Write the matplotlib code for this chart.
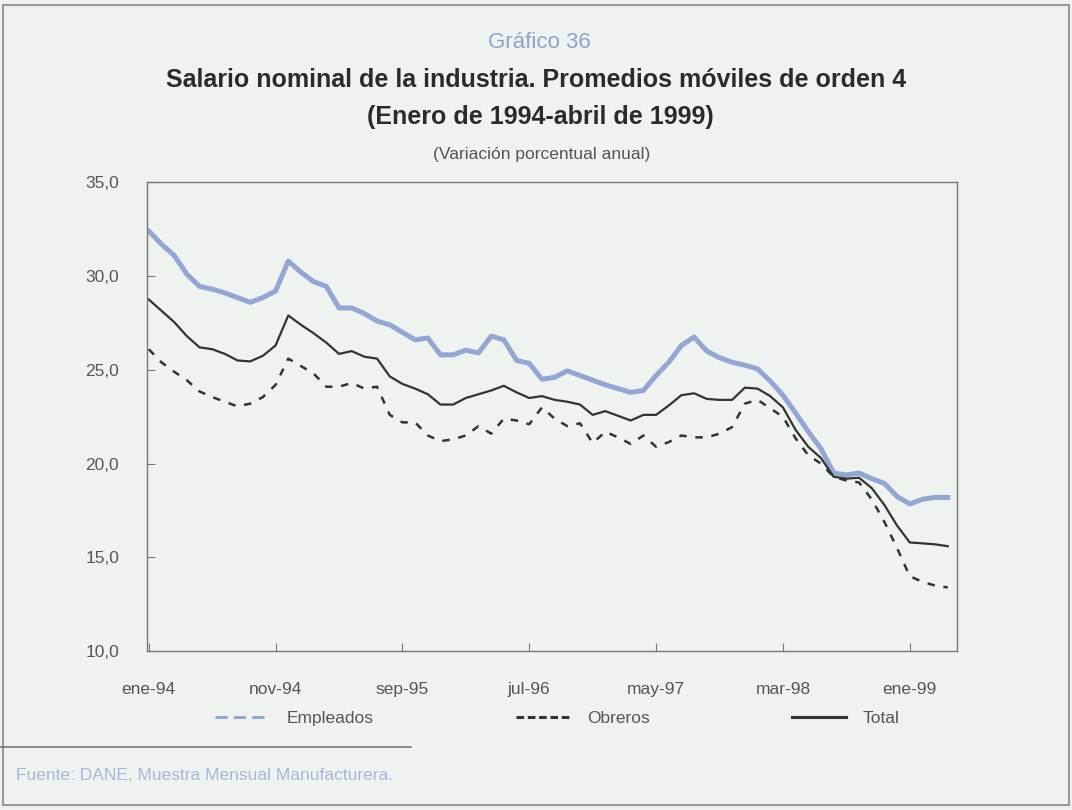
import matplotlib
matplotlib.use("Agg")
import matplotlib.pyplot as plt
from matplotlib.lines import Line2D
from matplotlib.patches import Rectangle
from matplotlib.ticker import FuncFormatter, FixedLocator

# meses desde ene-94 hasta abr-99
meses = list(range(64))
tick_pos = [0, 10, 20, 30, 40, 50, 60]
tick_labels = ["ene-94", "nov-94", "sep-95", "jul-96", "may-97", "mar-98", "ene-99"]

empleados = [
    32.4, 31.7, 31.1, 30.1, 29.45, 29.3, 29.1, 28.85, 28.6, 28.85,
    29.2, 30.8, 30.2, 29.7, 29.45, 28.3, 28.3, 28.0, 27.6, 27.4,
    27.0, 26.6, 26.7, 25.8, 25.8, 26.05, 25.9, 26.8, 26.6, 25.5,
    25.35, 24.5, 24.6, 24.95, 24.7, 24.45, 24.2, 24.0, 23.8, 23.9,
    24.7, 25.4, 26.3, 26.75, 26.0, 25.65, 25.4, 25.25, 25.05, 24.4,
    23.65, 22.7, 21.7, 20.8, 19.5, 19.4, 19.5, 19.2, 18.95, 18.25,
    17.85, 18.1, 18.2, 18.2,
]
obreros = [
    26.1, 25.4, 24.9, 24.45, 23.85, 23.55, 23.3, 23.05, 23.2, 23.55,
    24.2, 25.6, 25.2, 24.8, 24.1, 24.1, 24.3, 24.0, 24.1, 22.6,
    22.2, 22.2, 21.5, 21.2, 21.3, 21.5, 22.0, 21.6, 22.4, 22.3,
    22.1, 23.0, 22.4, 22.0, 22.15, 21.1, 21.7, 21.4, 21.05, 21.5,
    20.9, 21.15, 21.5, 21.4, 21.4, 21.6, 21.95, 23.2, 23.4, 22.95,
    22.5, 21.35, 20.45, 20.0, 19.3, 19.1, 19.0, 18.1, 16.9, 15.5,
    14.0, 13.7, 13.5, 13.4,
]
total = [
    28.75, 28.15, 27.55, 26.8, 26.2, 26.1, 25.85, 25.5, 25.45, 25.75,
    26.3, 27.9, 27.4, 26.95, 26.45, 25.85, 26.0, 25.7, 25.6, 24.65,
    24.25, 24.0, 23.7, 23.15, 23.15, 23.5, 23.7, 23.9, 24.15, 23.8,
    23.5, 23.6, 23.4, 23.3, 23.15, 22.6, 22.8, 22.55, 22.3, 22.6,
    22.6, 23.1, 23.65, 23.75, 23.45, 23.4, 23.4, 24.05, 24.0, 23.6,
    23.0, 21.8, 20.9, 20.3, 19.3, 19.2, 19.25, 18.7, 17.8, 16.7,
    15.8, 15.75, 15.7, 15.6,
]

bg = "#eff3ef"
azul = "#93a7d5"
gris = "#333333"
fuente = ["Liberation Sans", "DejaVu Sans"]

fig = plt.figure(figsize=(10.72, 8.10), dpi=100, facecolor=bg)
ax = fig.add_axes([0.137, 0.196, 0.756, 0.579], facecolor=bg)

ax.plot(meses, empleados, color=azul, lw=3.6, solid_joinstyle="round")
ax.plot(meses, obreros, color=gris, lw=1.8, linestyle=(0, (3, 3.5)))
ax.plot(meses, total, color=gris, lw=1.6)

ax.set_xlim(-0.15, 63.75)
ax.set_ylim(10, 35)
ax.xaxis.set_major_locator(FixedLocator(tick_pos))
ax.set_xticklabels(tick_labels)
ax.set_yticks([10, 15, 20, 25, 30, 35])
ax.yaxis.set_major_formatter(FuncFormatter(lambda v, p: f"{v:.1f}".replace(".", ",")))
ax.tick_params(direction="in", length=6, color="#777777", labelcolor="#555555",
               labelsize=12.5)
ax.tick_params(axis="y", pad=20)
ax.tick_params(axis="x", pad=22)
for lab in ax.get_xticklabels() + ax.get_yticklabels():
    lab.set_family(fuente)
for s in ax.spines.values():
    s.set_color("#777777")
    s.set_linewidth(1.0)

fig.text(0.503, 0.948, "Gráfico 36", ha="center", va="center", fontsize=16,
         color="#8fa2cf", family=fuente)
fig.text(0.500, 0.901, "Salario nominal de la industria. Promedios móviles de orden 4",
         ha="center", va="center", fontsize=18, fontweight="bold", color="#2b2b2b",
         family=fuente)
fig.text(0.504, 0.855, "(Enero de 1994-abril de 1999)", ha="center", va="center",
         fontsize=18, fontweight="bold", color="#2b2b2b", family=fuente)
fig.text(0.505, 0.809, "(Variación porcentual anual)", ha="center", va="center",
         fontsize=12.5, color="#555555", family=fuente)

handles = [
    Line2D([], [], color=azul, lw=2.2, linestyle=(0, (4, 2))),
    Line2D([], [], color=gris, lw=2.2, linestyle=(0, (2.5, 1.2))),
    Line2D([], [], color=gris, lw=2.2),
]
leg = fig.legend(handles, ["Empleados", "Obreros", "Total"], ncol=3, frameon=False,
                 loc="center", bbox_to_anchor=(0.52, 0.113), handlelength=3.1,
                 columnspacing=8.2, handletextpad=1.0,
                 prop={"family": fuente, "size": 12.5})
for t in leg.get_texts():
    t.set_color("#555555")

fig.add_artist(Line2D([0.0, 0.383], [0.078, 0.078], transform=fig.transFigure,
                      color="#777777", lw=1.2))
fig.text(0.015, 0.042, "Fuente: DANE, Muestra Mensual Manufacturera.", ha="left",
         va="center", fontsize=12.5, color="#a7b7dc", family=fuente)
fig.add_artist(Rectangle((0.003, 0.006), 0.994, 0.988, transform=fig.transFigure,
                         fill=False, ec="#999999", lw=1.5))

fig.savefig("out.png", dpi=100, facecolor=bg)
